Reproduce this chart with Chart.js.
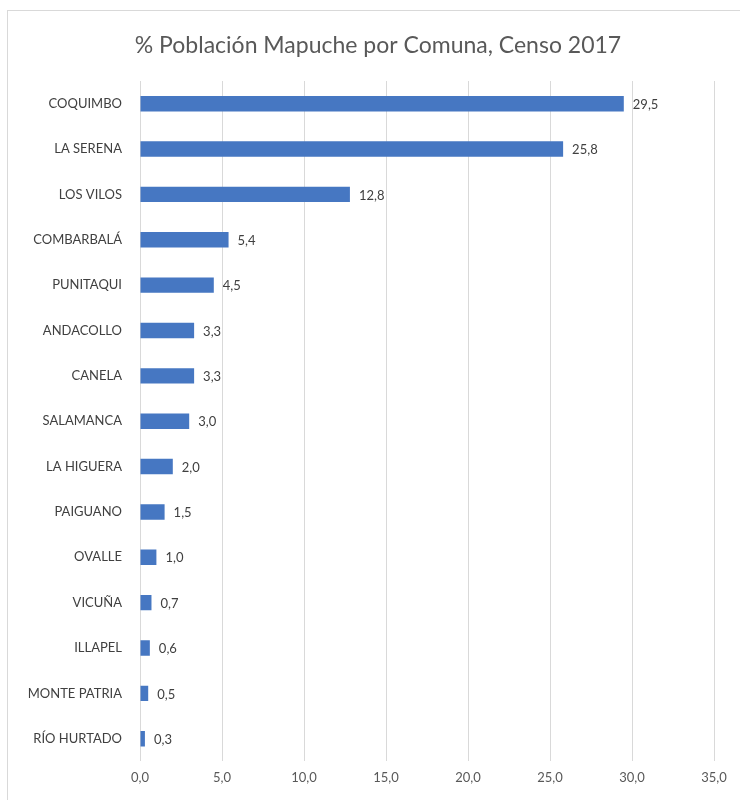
<!DOCTYPE html>
<html>
<head>
<meta charset="utf-8">
<script src="https://cdn.jsdelivr.net/npm/chart.js@4"></script>
<style>
    html, body { margin: 0; padding: 0; background: #fff; }
    #wrap { position: relative; width: 740px; height: 800px; overflow: hidden; }
    #frame { position: absolute; left: 7px; top: 10px; width: 760px; height: 820px; border: 1px solid #d9d9d9; }
    #chart { position: absolute; left: 0; top: 0; }
</style>
</head>
<body>
<div id="wrap">
    <div id="frame"></div>
    <canvas id="chart" width="740" height="800"></canvas>
</div>
<script>
// datos
const comunas = ['COQUIMBO', 'LA SERENA', 'LOS VILOS', 'COMBARBALÁ', 'PUNITAQUI', 'ANDACOLLO', 'CANELA',
    'SALAMANCA', 'LA HIGUERA', 'PAIGUANO', 'OVALLE', 'VICUÑA', 'ILLAPEL', 'MONTE PATRIA', 'RÍO HURTADO'];
const porcentajes = [29.5, 25.8, 12.8, 5.4, 4.5, 3.3, 3.3, 3.0, 2.0, 1.5, 1.0, 0.7, 0.6, 0.5, 0.3];
const ejeMin = 0;
const ejeMax = 35;
const ejePaso = 5;
const titulo = '% Población Mapuche por Comuna, Censo 2017';

const fuente = 'Lato, "Open Sans", sans-serif';
const coma = v => Number(v).toFixed(1).replace('.', ',');

// titulo centrado sobre el marco original (no sobre el canvas)
const tituloPlugin = {
    id: 'tituloPlugin',
    afterDraw(chart) {
        const ctx = chart.ctx;
        ctx.save();
        ctx.font = '23px ' + fuente;
        ctx.fillStyle = '#595959';
        ctx.textAlign = 'center';
        ctx.textBaseline = 'middle';
        ctx.fillText(titulo, 378, 46);
        ctx.restore();
    }
};

// etiquetas de valor al final de cada barra
const etiquetasValor = {
    id: 'etiquetasValor',
    afterDatasetsDraw(chart) {
        const ctx = chart.ctx;
        const meta = chart.getDatasetMeta(0);
        ctx.save();
        ctx.font = '13px ' + fuente;
        ctx.fillStyle = '#404040';
        ctx.textAlign = 'left';
        ctx.textBaseline = 'middle';
        meta.data.forEach((bar, i) => {
            ctx.fillText(coma(porcentajes[i]), bar.x + 9, bar.y + 1);
        });
        ctx.restore();
    }
};

new Chart(document.getElementById('chart'), {
    type: 'bar',
    data: {
        labels: comunas,
        datasets: [{
            data: porcentajes,
            backgroundColor: '#4677c2',
            borderWidth: 0,
            barPercentage: 0.68,
            categoryPercentage: 0.5
        }]
    },
    options: {
        indexAxis: 'y',
        responsive: false,
        animation: false,
        layout: { padding: { left: 0, right: 26, top: 81, bottom: 5 } },
        plugins: {
            legend: { display: false },
            tooltip: { enabled: false },
            title: { display: false }
        },
        scales: {
            x: {
                min: ejeMin,
                max: ejeMax,
                ticks: {
                    stepSize: ejePaso,
                    color: '#595959',
                    font: { family: fuente, size: 13 },
                    padding: 9,
                    callback: v => coma(v)
                },
                grid: { color: '#d9d9d9', drawTicks: false },
                border: { display: false }
            },
            y: {
                ticks: {
                    color: '#404040',
                    font: { family: fuente, size: 13 },
                    padding: 10
                },
                grid: { display: false },
                border: { display: false },
                afterFit(scale) { scale.width = 140; }
            }
        }
    },
    plugins: [etiquetasValor, tituloPlugin]
});
</script>
</body>
</html>
